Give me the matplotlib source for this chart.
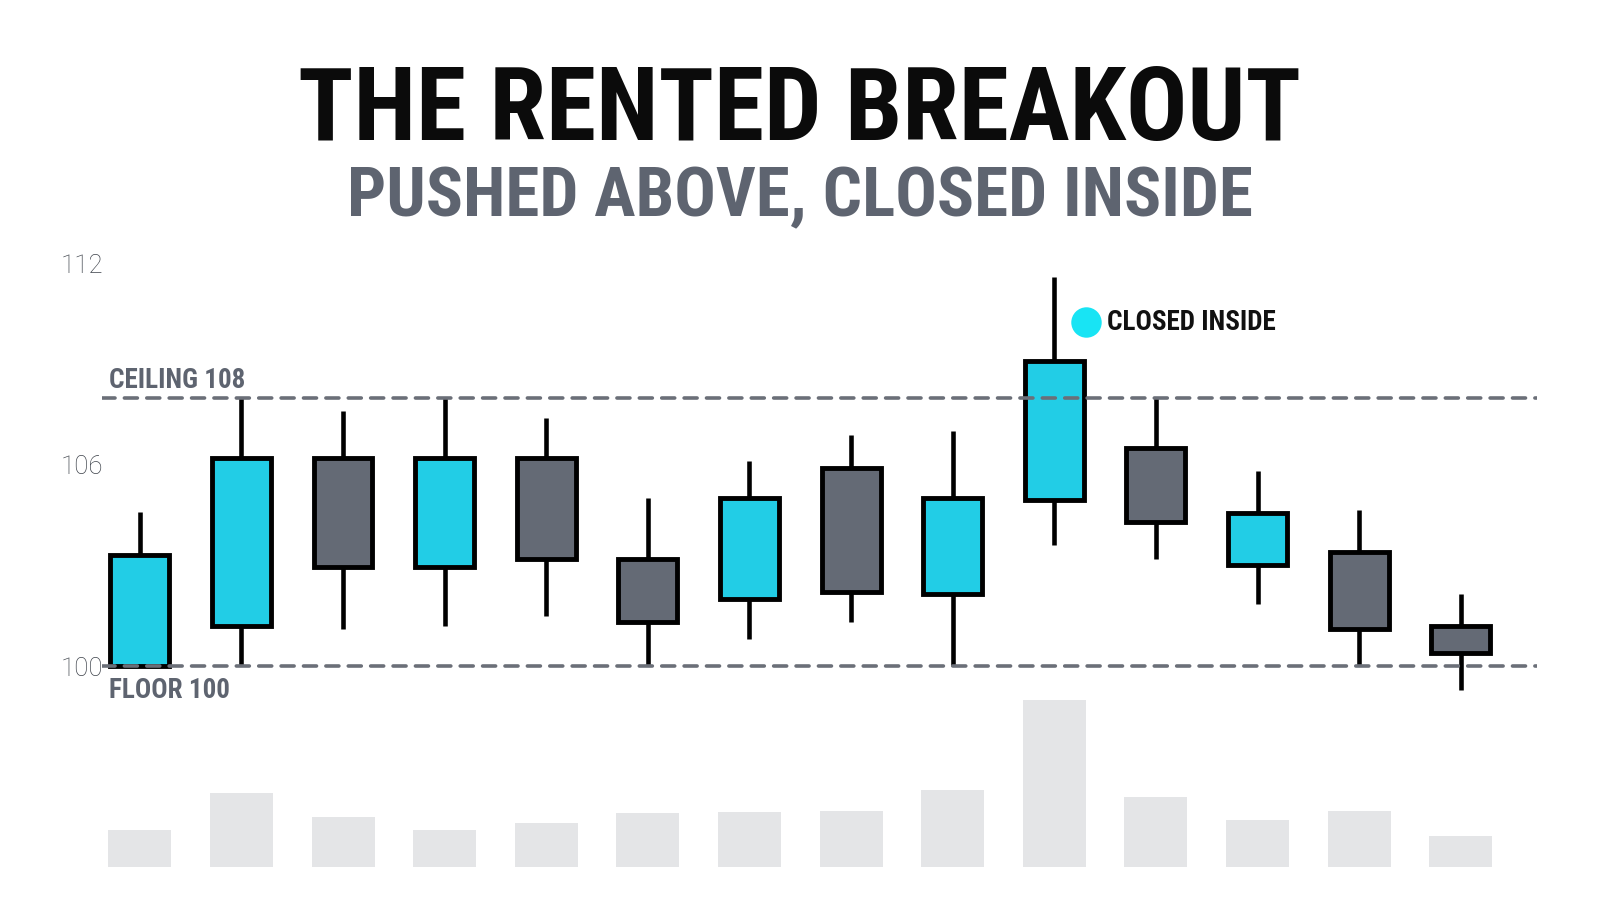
import numpy as np
import matplotlib
matplotlib.use("Agg")
import matplotlib.pyplot as plt
from matplotlib import font_manager
from matplotlib.patches import Rectangle

# candles, left to right
opens = [100.0, 101.2, 106.2, 102.95, 106.2, 103.2, 102.0, 105.9, 102.15, 104.95, 106.5, 103.0, 103.4, 101.2]
closes = [103.3, 106.2, 102.95, 106.2, 103.2, 101.3, 105.0, 102.2, 105.0, 109.1, 104.3, 104.55, 101.1, 100.4]
highs = [104.6, 108.0, 107.6, 108.0, 107.4, 105.0, 106.1, 106.9, 107.0, 111.6, 108.0, 105.8, 104.65, 102.15]
lows = [100.0, 100.0, 101.1, 101.2, 101.5, 100.0, 100.8, 101.3, 100.0, 103.6, 103.2, 101.85, 100.0, 99.3]
volumes = [36, 73, 49, 36, 43, 53, 54, 55, 75, 164, 69, 46, 55, 30]

ceiling = 108
floor_ = 100
yticks = [100, 106, 112]
title = "THE RENTED BREAKOUT"
subtitle = "PUSHED ABOVE, CLOSED INSIDE"
marker_label = "CLOSED INSIDE"
marker_idx = 9
marker_price = 110.25

CYAN = "#22cde6"
GRAY = "#646a75"
LINE = "#6b6f78"
SUB = "#5e6470"
VOL = "#e4e5e7"
DOT = "#18e4f4"


def pick_font(names):
    for n in names:
        try:
            font_manager.findfont(font_manager.FontProperties(family=n), fallback_to_default=False)
            return n
        except Exception:
            continue
    return "DejaVu Sans"


cond = pick_font(["Roboto Condensed", "Liberation Sans Narrow", "DejaVu Sans Condensed", "Roboto"])
light = pick_font(["Roboto", "Lato", "DejaVu Sans"])

W, H = 1600, 914
fig = plt.figure(figsize=(W / 100, H / 100), dpi=100)
fig.patch.set_facecolor("white")


def px(x0, y0, x1, y1):
    # pixel box (top-left origin) -> figure fraction rect
    return [x0 / W, 1 - y1 / H, (x1 - x0) / W, (y1 - y0) / H]


# x index -> pixel: 139.8 + 101.6 * i
x_lo, x_hi = -0.372, 13.75
ax = fig.add_axes(px(102, 250, 1537, 710))
ax.set_xlim(x_lo, x_hi)
ax.set_ylim(98.69, 112.4)
for s in ax.spines.values():
    s.set_visible(False)
ax.set_xticks([])
ax.set_yticks(yticks)
ax.set_yticklabels([str(t) for t in yticks], family=light, fontweight="light", fontsize=18.5, color="#3f444c")
ax.tick_params(axis="y", length=0, pad=-1)

body_w = 0.58
for i, (o, h, l, c) in enumerate(zip(opens, highs, lows, closes)):
    col = CYAN if c >= o else GRAY
    ax.plot([i, i], [l, h], color="black", lw=3.3, solid_capstyle="butt", zorder=2)
    ax.add_patch(Rectangle((i - body_w / 2, min(o, c)), body_w, abs(c - o),
                           facecolor=col, edgecolor="black", lw=3.5, zorder=3))

for lvl in (ceiling, floor_):
    ax.axhline(lvl, color=LINE, lw=2.6, linestyle=(0, (3.6, 2.6)), dash_capstyle="round", zorder=4)

ax.text(0.005, ceiling + 0.1, "CEILING %d" % ceiling, transform=ax.get_yaxis_transform(),
        family=cond, fontweight="bold", fontsize=19.5, color=SUB, va="bottom", ha="left")
ax.text(0.005, floor_ - 0.33, "FLOOR %d" % floor_, transform=ax.get_yaxis_transform(),
        family=cond, fontweight="bold", fontsize=19.5, color=SUB, va="top", ha="left")

# marker for the breakout candle
ax.scatter([marker_idx + 0.31], [marker_price], s=480, color=DOT, zorder=5, linewidths=0)
ax.text(marker_idx + 0.52, marker_price, marker_label, family=cond, fontweight="bold",
        fontsize=19.5, color="#111111", va="center", ha="left")

# volume
vax = fig.add_axes(px(102, 680, 1537, 867))
vax.set_xlim(x_lo, x_hi)
vax.set_ylim(0, 183.3)
vax.bar(np.arange(len(volumes)), volumes, width=0.62, color=VOL, zorder=1)
vax.axis("off")

# titles, fitted to the reference widths
t1 = fig.text(0.5, 1 - 140 / H, title, family=cond, fontweight="bold", fontsize=76, color="#0b0b0b",
              ha="center", va="baseline")
t2 = fig.text(0.5, 1 - 216 / H, subtitle, family=cond, fontweight="bold", fontsize=52, color=SUB,
              ha="center", va="baseline")
fig.canvas.draw()
r = fig.canvas.get_renderer()
for t, target in ((t1, 1002), (t2, 906)):
    w = t.get_window_extent(r).width
    t.set_fontsize(t.get_fontsize() * target / w)

fig.savefig("out.png", dpi=100, facecolor="white")
